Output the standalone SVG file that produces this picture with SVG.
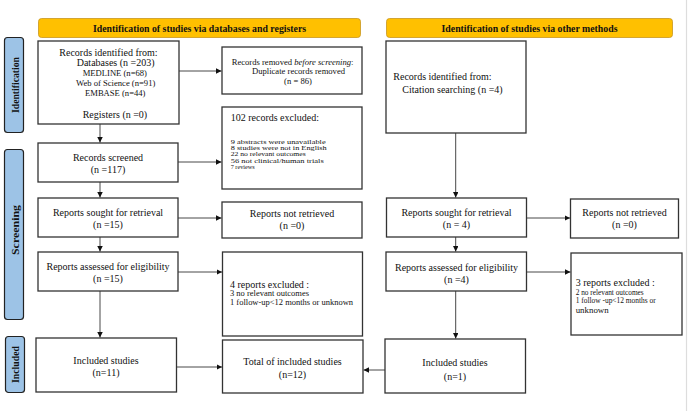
<svg xmlns="http://www.w3.org/2000/svg" width="688" height="411" viewBox="0 0 688 411">
<defs>
<marker id="ah" viewBox="0 0 6 6" refX="6" refY="3" markerWidth="5.5" markerHeight="5.5" markerUnits="userSpaceOnUse" orient="auto">
<path d="M0,0 L6,3 L0,6 Z" fill="#111"/>
</marker>
<style>
.box{fill:#fff;stroke:#333;stroke-width:1.3}
.hdr{fill:#FFC000;stroke:#C8961E;stroke-width:0.8}
.side{fill:#9DC3E6;stroke:#222;stroke-width:1.2}
.t{font-family:"Liberation Serif","Times New Roman",serif;font-size:10px;fill:#111}
.s{font-family:"Liberation Serif","Times New Roman",serif;font-size:8.6px;fill:#111}
.r{font-family:"Liberation Serif","Times New Roman",serif;font-size:7.8px;fill:#111}
.x{font-family:"Liberation Serif","Times New Roman",serif;font-size:6.4px;fill:#111}
.b{font-family:"Liberation Serif","Times New Roman",serif;font-size:9.8px;font-weight:bold;fill:#111}
.c{text-anchor:middle}
.arr{stroke:#333;stroke-width:0.9;fill:none;marker-end:url(#ah)}
</style>
</defs>
<rect width="688" height="411" fill="#fff"/>
<line x1="686.5" y1="0" x2="686.5" y2="411" stroke="#ddd" stroke-width="1.2"/>

<g id="header-db">
<rect class="hdr" x="38.5" y="18.5" width="322" height="19" rx="3"/>
<text class="b c" x="199.5" y="31.5">Identification of studies via databases and registers</text>
</g>
<g id="header-other">
<rect class="hdr" x="386.5" y="18.5" width="286" height="19" rx="3"/>
<text class="b c" x="529.5" y="31.5">Identification of studies via other methods</text>
</g>

<g id="side-identification">
<rect class="side" x="4.5" y="37.5" width="19" height="95" rx="3"/>
<text class="b c" transform="translate(18.5,85) rotate(-90)" textLength="56" lengthAdjust="spacingAndGlyphs">Identification</text>
</g>
<g id="side-screening">
<rect class="side" x="4.5" y="149.5" width="19" height="170" rx="3"/>
<text class="b c" transform="translate(18.5,230) rotate(-90)" textLength="50" lengthAdjust="spacingAndGlyphs">Screening</text>
</g>
<g id="side-included">
<rect class="side" x="5.5" y="336.5" width="19" height="56" rx="3"/>
<text class="b c" transform="translate(19,364.5) rotate(-90)" textLength="37" lengthAdjust="spacingAndGlyphs">Included</text>
</g>

<g id="records-identified">
<rect class="box" x="38" y="41" width="141" height="83"/>
<text class="t" x="59.3" y="55.5">Records identified from:</text>
<text class="t" x="76.7" y="66">Databases (n =203)</text>
<text class="s" x="82.7" y="76">MEDLINE (n=68)</text>
<text class="s" x="76" y="86">Web of Science (n=91)</text>
<text class="s" x="85" y="96">EMBASE (n=44)</text>
<text class="t" x="82.7" y="118">Registers (n =0)</text>
</g>
<g id="records-removed">
<rect class="box" x="222" y="47" width="140" height="47"/>
<text class="s" x="231.7" y="64.5">Records removed <tspan font-style="italic">before screening</tspan>:</text>
<text class="s c" x="298.5" y="74">Duplicate records removed</text>
<text class="s c" x="298" y="84">(n = 86)</text>
</g>
<g id="citation">
<rect class="box" x="386" y="41" width="140" height="92"/>
<text class="t" x="393.3" y="80">Records identified from:</text>
<text class="t" x="402.3" y="93">Citation searching (n =4)</text>
</g>

<g id="records-screened">
<rect class="box" x="38" y="143" width="140" height="39"/>
<text class="t c" x="108" y="161">Records screened</text>
<text class="t c" x="108" y="172.5">(n =117)</text>
</g>
<g id="records-excluded">
<rect class="box" x="222" y="107" width="140" height="82"/>
<text class="t" x="230.7" y="121">102 records excluded:</text>
<text class="x" x="230.7" y="143.7" textLength="95" lengthAdjust="spacingAndGlyphs">9 abstracts were unavailable</text>
<text class="x" x="230.7" y="150" textLength="96" lengthAdjust="spacingAndGlyphs">8 studies were not in English</text>
<text class="x" x="230.7" y="156.3" textLength="75" lengthAdjust="spacingAndGlyphs">22 no relevant outcomes</text>
<text class="x" x="230.7" y="162.6" textLength="93" lengthAdjust="spacingAndGlyphs">56 not clinical/human trials</text>
<text class="x" x="230.7" y="168.9" textLength="24" lengthAdjust="spacingAndGlyphs">7 reviews</text>
</g>

<g id="sought-left">
<rect class="box" x="38" y="198" width="140" height="39"/>
<text class="t c" x="108" y="215.5">Reports sought for retrieval</text>
<text class="t c" x="108" y="227.5">(n =15)</text>
</g>
<g id="not-retrieved-left">
<rect class="box" x="222" y="202" width="140" height="36"/>
<text class="t c" x="292" y="216.5">Reports not retrieved</text>
<text class="t c" x="292" y="229">(n =0)</text>
</g>
<g id="sought-right">
<rect class="box" x="386.5" y="198" width="140" height="39"/>
<text class="t c" x="456.5" y="216">Reports sought for retrieval</text>
<text class="t c" x="456.5" y="228">(n = 4)</text>
</g>
<g id="not-retrieved-right">
<rect class="box" x="570.5" y="199" width="108" height="39"/>
<text class="t c" x="624.5" y="216">Reports not retrieved</text>
<text class="t c" x="624.5" y="228">(n =0)</text>
</g>

<g id="assessed-left">
<rect class="box" x="38" y="252" width="140" height="39"/>
<text class="t c" x="108" y="270">Reports assessed for eligibility</text>
<text class="t c" x="108" y="281.5">(n =15)</text>
</g>
<g id="excluded-left">
<rect class="box" x="222.5" y="252" width="140" height="84"/>
<text class="t" x="230" y="287.5">4 reports excluded :</text>
<text class="s" x="230" y="296" textLength="79" lengthAdjust="spacingAndGlyphs">3 no relevant outcomes</text>
<text class="s" x="230" y="305" textLength="123" lengthAdjust="spacingAndGlyphs">1 follow-up&lt;12 months or unknown</text>
</g>
<g id="assessed-right">
<rect class="box" x="386" y="252" width="140.5" height="39"/>
<text class="t c" x="456.5" y="271">Reports assessed for eligibility</text>
<text class="t c" x="456.5" y="283">(n =4)</text>
</g>
<g id="excluded-right">
<rect class="box" x="571" y="253" width="111" height="82"/>
<text class="t" x="575.7" y="285.5">3 reports excluded :</text>
<text class="r" x="575.7" y="294.5" textLength="68" lengthAdjust="spacingAndGlyphs">2 no relevant outcomes</text>
<text class="r" x="575.7" y="303" textLength="80" lengthAdjust="spacingAndGlyphs">1 follow -up&lt;12 months or</text>
<text class="r" x="575.7" y="312.5" textLength="33" lengthAdjust="spacingAndGlyphs">unknown</text>
</g>

<g id="included-left">
<rect class="box" x="36" y="338" width="140.5" height="54"/>
<text class="t c" x="106" y="364">Included studies</text>
<text class="t c" x="106" y="375.5">(n=11)</text>
</g>
<g id="total">
<rect class="box" x="222.5" y="340" width="140.5" height="53"/>
<text class="t c" x="292.5" y="365">Total of included studies</text>
<text class="t c" x="292.5" y="378">(n=12)</text>
</g>
<g id="included-right">
<rect class="box" x="385" y="339" width="140.5" height="54"/>
<text class="t c" x="455" y="365.5">Included studies</text>
<text class="t c" x="455" y="379.5">(n=1)</text>
</g>

<g id="connectors">
<line class="arr" x1="179" y1="71" x2="221.5" y2="71"/>
<line class="arr" x1="100" y1="124" x2="100" y2="142.5"/>
<line class="arr" x1="178" y1="162" x2="221.5" y2="162"/>
<line class="arr" x1="100" y1="182" x2="100" y2="197.5"/>
<line class="arr" x1="178" y1="218" x2="221.5" y2="218"/>
<line class="arr" x1="100" y1="237" x2="100" y2="251.5"/>
<line class="arr" x1="178" y1="272" x2="222" y2="272"/>
<line class="arr" x1="100" y1="291" x2="100" y2="337.5"/>
<line class="arr" x1="176.5" y1="367" x2="222" y2="367"/>
<line class="arr" x1="455.7" y1="133" x2="455.7" y2="197.5"/>
<line class="arr" x1="526.5" y1="218" x2="570" y2="218"/>
<line class="arr" x1="455.7" y1="237" x2="455.7" y2="251.5"/>
<line class="arr" x1="526.5" y1="272" x2="570.5" y2="272"/>
<line class="arr" x1="455.7" y1="291" x2="455.7" y2="338.5"/>
<line class="arr" x1="385" y1="370" x2="363.5" y2="370"/>
</g>
</svg>
